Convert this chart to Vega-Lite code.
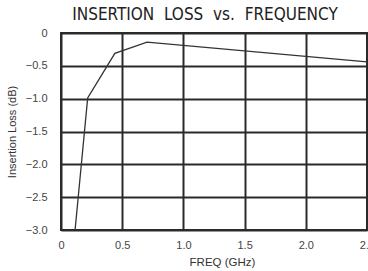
{
  "$schema": "https://vega.github.io/schema/vega-lite/v6.json",
  "width": 306,
  "height": 197,
  "autosize": {"type": "none"},
  "padding": {"left": 61, "top": 33, "right": 1, "bottom": 41},
  "background": "white",
  "title": {
    "text": "INSERTION\u00a0\u00a0LOSS\u00a0\u00a0vs.\u00a0\u00a0FREQUENCY",
    "font": "'DejaVu Sans Condensed', 'DejaVu Sans', sans-serif",
    "fontSize": 17,
    "fontWeight": "normal",
    "color": "#222222",
    "anchor": "middle",
    "frame": "group",
    "baseline": "bottom",
    "offset": 8,
    "dx": -9,
    "dy": 22
  },
  "data": {
    "values": [
      {"freq": 0.115, "loss": -3.0},
      {"freq": 0.218, "loss": -0.99},
      {"freq": 0.44, "loss": -0.31},
      {"freq": 0.703, "loss": -0.14},
      {"freq": 2.5, "loss": -0.44}
    ]
  },
  "mark": {"type": "line", "color": "#333333", "strokeWidth": 1.3, "clip": true},
  "encoding": {
    "x": {
      "field": "freq",
      "type": "quantitative",
      "scale": {"domain": [0, 2.5], "nice": false, "zero": false},
      "axis": {
        "values": [0, 0.5, 1, 1.5, 2, 2.5],
        "labelExpr": "datum.value == 0 ? '0' : format(datum.value, '.1f')",
        "title": "FREQ (GHz)",
        "titleFont": "Liberation Sans",
        "titleFontSize": 11.5,
        "titleFontWeight": "normal",
        "titleColor": "#333333",
        "titlePadding": 6,
        "titleX": 161,
        "labelFont": "Liberation Sans",
        "labelFontSize": 11,
        "labelColor": "#444444",
        "labelPadding": 9,
        "labelFlush": false,
        "labelOverlap": false,
        "ticks": false,
        "domain": false,
        "grid": true,
        "gridColor": "#2a2a2a",
        "gridWidth": 2,
        "gridOpacity": 1
      }
    },
    "y": {
      "field": "loss",
      "type": "quantitative",
      "scale": {"domain": [-3, 0], "nice": false, "zero": false},
      "axis": {
        "values": [0, -0.5, -1, -1.5, -2, -2.5, -3],
        "labelExpr": "datum.value == 0 ? '0' : format(datum.value, '.1f')",
        "title": "Insertion Loss (dB)",
        "titleFont": "Liberation Sans",
        "titleFontSize": 11,
        "titleFontWeight": "normal",
        "titleColor": "#333333",
        "titlePadding": 8,
        "labelFont": "Liberation Sans",
        "labelFontSize": 11,
        "labelColor": "#444444",
        "labelPadding": 14,
        "labelFlush": false,
        "labelOverlap": false,
        "ticks": false,
        "domain": false,
        "grid": true,
        "gridColor": "#2a2a2a",
        "gridWidth": 2,
        "gridOpacity": 1
      }
    }
  },
  "config": {
    "view": {"stroke": "#2a2a2a", "strokeWidth": 2}
  }
}
